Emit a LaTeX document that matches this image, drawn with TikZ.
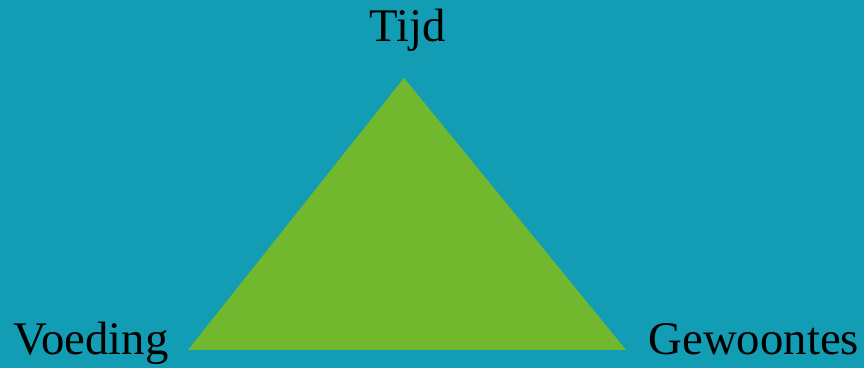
\documentclass[tikz,border=0pt]{standalone}
\usepackage{fontspec}
\setmainfont{Liberation Serif}
\usepackage{xcolor}
\usepackage{tikz}
\definecolor{bgteal}{HTML}{139DB5}
\definecolor{trigreen}{HTML}{72B82E}

\begin{document}
\begin{tikzpicture}[
    label1/.style={inner sep=0pt, text=black, font=\fontsize{13.3}{15}\selectfont},
    tri/.style={fill=trigreen, draw=none}
]
    \fill [bgteal] (0,0) rectangle (8.64,3.68);
    \useasboundingbox (0,0) rectangle (8.64,3.68);

    \coordinate (top) at (4.04,2.90);
    \coordinate (left) at (1.88,0.18);
    \coordinate (right) at (6.26,0.18);
    \fill [tri] (top) -- (left) -- (right) -- cycle;

    \node [label1, anchor=base] (n1) at (4.08,3.26) {Tijd};
    \node [label1, anchor=base west] (n2) at (0.13,0.13) {Voeding};
    \node [label1, anchor=base west] (n3) at (6.48,0.13) {Gewoontes};
\end{tikzpicture}
\end{document}
